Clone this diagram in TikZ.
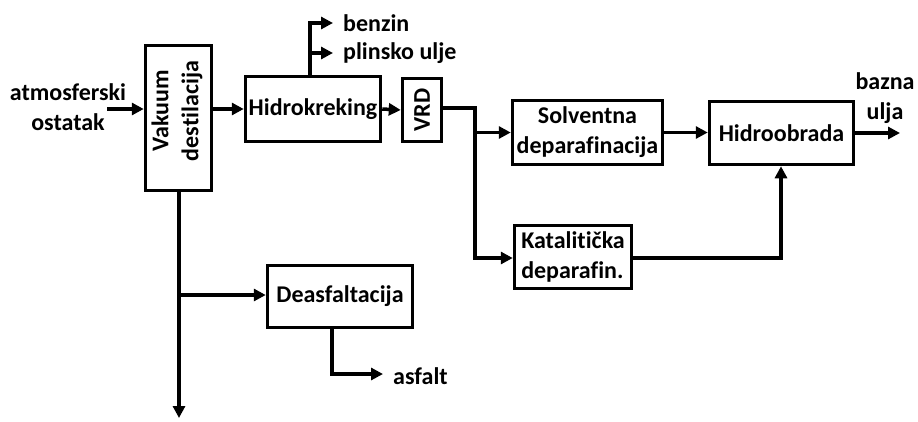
\documentclass[tikz,border=0pt]{standalone}
\usepackage{fontspec}
\setmainfont[Ligatures=NoCommon]{Carlito}
\usetikzlibrary{arrows.meta}
\begin{document}
\begin{tikzpicture}[x=1pt,y=-1pt,
  font=\fontsize{24}{30}\selectfont\bfseries,
  box/.style={draw,line width=3.5pt,inner sep=0pt},
  lbl/.style={inner sep=0pt,align=center},
  arr/.style={line width=3.5pt,-{Triangle[length=12pt,width=12pt]}}]
\useasboundingbox (0,0) rectangle (918,421);
% boxes
\node[box,minimum width=66pt,minimum height=145pt] (vak) at (178.5,118) {};
\node[lbl,rotate=90] (vakt) at (177,111) {Vakuum\\destilacija};
\node[box,minimum width=135pt,minimum height=65pt] (hk) at (313,109) {Hidrokreking};
\node[box,minimum width=39pt,minimum height=63pt] (vrd) at (422,110) {};
\node[lbl,rotate=90] (vrdt) at (422,110) {VRD};
\node[box,minimum width=150pt,minimum height=64pt,align=center] (sol) at (587.5,132.5) {Solventna\\deparafinacija};
\node[box,minimum width=144pt,minimum height=63pt] (hob) at (781.5,133) {Hidroobrada};
\node[box,minimum width=117pt,minimum height=63pt,align=left] (kat) at (573,257) {Katalitička\\deparafin.};
\node[box,minimum width=145pt,minimum height=62pt] (dea) at (340,296.5) {Deasfaltacija};
% labels
\node[lbl] (atm) at (68,107) {atmosferski\\ostatak};
\node[lbl,anchor=west] (ben) at (343,23) {benzin};
\node[lbl,anchor=west] (pli) at (343,53) {plinsko ulje};
\node[lbl] (baz) at (885,98) {bazna\\ulja};
\node[lbl,anchor=west] (asf) at (393,376) {asfalt};
% coordinates
\coordinate (in) at (107,109);
\coordinate (hkup) at (310,0);
\coordinate (vrdo) at (475,108);
\coordinate (katin) at (475,258);
\coordinate (hobin) at (781,258);
\coordinate (out) at (900,133);
\coordinate (vakdown) at (179,418);
\coordinate (vakbr) at (179,295);
\coordinate (deadown) at (332,374);
% connectors
\draw[arr] (in) -- (in -| vak.west);
\draw[arr] (vak.east |- hk.west) -- (hk.west);
\draw[arr] (hk.east) -- (vrd.west);
\draw[arr] (hkup |- hk.north) -- (hkup |- ben.west) -- ([xshift=-10pt]ben.west);
\draw[arr] (hkup |- pli.west) -- ([xshift=-10pt]pli.west);
\draw[arr] (vrd.east |- vrdo) -- (vrdo) -- (katin) -- (katin -| kat.west);
\draw[arr] (vrdo |- sol.west) -- (sol.west);
\draw[arr] (sol.east) -- (sol.east -| hob.west);
\draw[arr] (kat.east |- hobin) -- (hobin) -- (hob.south -| hobin);
\draw[arr] (hob.east) -- (out);
\draw[arr] (vak.south -| vakdown) -- (vakdown);
\draw[arr] (vakbr) -- (vakbr -| dea.west);
\draw[arr] (dea.south -| deadown) -- (deadown) -- ([xshift=-10pt]asf.west |- deadown);
\end{tikzpicture}
\end{document}
